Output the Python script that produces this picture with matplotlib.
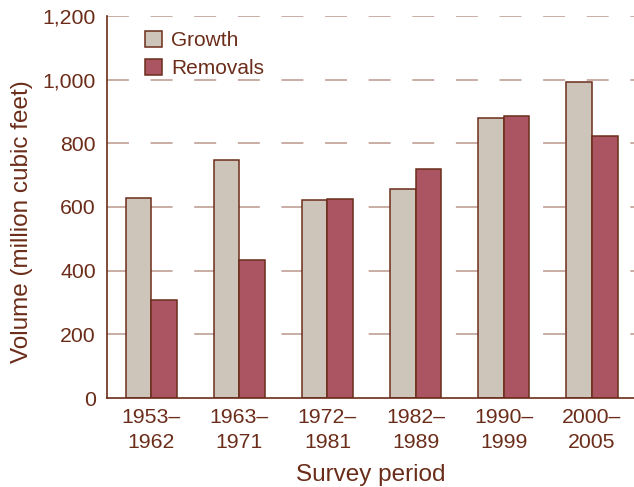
import matplotlib
matplotlib.use("Agg")
import matplotlib.pyplot as plt
import numpy as np
from matplotlib.patches import Patch

periods = ["1953–\n1962", "1963–\n1971", "1972–\n1981", "1982–\n1989", "1990–\n1999", "2000–\n2005"]
growth = [628, 748, 623, 655, 880, 992]
removals = [309, 432, 624, 718, 887, 824]
yticks = [0, 200, 400, 600, 800, 1000, 1200]
ytick_labels = ["0", "200", "400", "600", "800", "1,000", "1,200"]

BROWN = "#6b2d1a"
GROWTH_C = "#cdc5b9"
REMOVAL_C = "#ab5462"
GRID_C = "#c8ada4"

plt.rcParams["font.family"] = ["Liberation Sans", "DejaVu Sans"]
plt.rcParams["lines.scale_dashes"] = False

fig = plt.figure(figsize=(6.34, 4.87), dpi=100)
ax = fig.add_axes([107/634, 89/487, 527/634, 382/487])

x = np.arange(len(periods))
w = 0.29
ax.bar(x - w/2, growth, width=w, color=GROWTH_C, edgecolor=BROWN, linewidth=1.1, zorder=3, label="Growth")
ax.bar(x + w/2, removals, width=w, color=REMOVAL_C, edgecolor=BROWN, linewidth=1.1, zorder=3, label="Removals")

for yv in yticks[1:]:
    ax.axhline(yv, color=GRID_C, linewidth=1.4, linestyle=(0, (15.8, 15.6)), zorder=1)

ax.set_xlim(-0.5, 5.476)
ax.set_ylim(0, 1200)
ax.set_yticks(yticks)
ax.set_yticklabels(ytick_labels)
ax.set_xticks(x)
ax.set_xticklabels(periods, linespacing=1.4)
ax.tick_params(axis="both", length=0, labelsize=15.3, labelcolor=BROWN)
ax.tick_params(axis="y", pad=8)
ax.tick_params(axis="x", pad=7)

for s in ["top", "right"]:
    ax.spines[s].set_visible(False)
for s in ["left", "bottom"]:
    ax.spines[s].set_color(BROWN)
    ax.spines[s].set_linewidth(1.2)
    ax.spines[s].set_zorder(4)

ax.set_ylabel("Volume (million cubic feet)", fontsize=17.5, color=BROWN, va="center")
ax.yaxis.set_label_coords(-0.162, 0.463)
ax.set_xlabel("Survey period", fontsize=17.5, color=BROWN, labelpad=9)

handles = [Patch(facecolor=GROWTH_C, edgecolor=BROWN, linewidth=1.1, label="Growth"),
           Patch(facecolor=REMOVAL_C, edgecolor=BROWN, linewidth=1.1, label="Removals")]
leg = ax.legend(handles=handles, loc="upper left", bbox_to_anchor=(0.045, 1.0), frameon=False,
                fontsize=15, handlelength=0.8, handleheight=0.8, handletextpad=0.45,
                labelspacing=0.45, borderaxespad=0.3)
for t in leg.get_texts():
    t.set_color(BROWN)

fig.savefig("out.png", dpi=100)
